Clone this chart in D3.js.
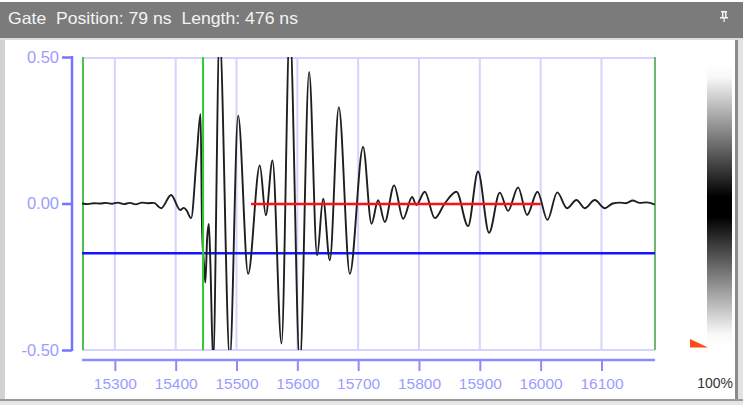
<!DOCTYPE html>
<html>
<head>
<meta charset="utf-8">
<script src="https://cdn.jsdelivr.net/npm/d3@7"></script>
<style>
  html, body { margin: 0; padding: 0; background: #ffffff; }
  svg { display: block; }
</style>
</head>
<body>
<svg id="chart" width="743" height="405"></svg>
<script>
// ---- data ----
const titleText = "Gate  Position: 79 ns  Length: 476 ns";
const xTicks = [15300, 15400, 15500, 15600, 15700, 15800, 15900, 16000, 16100];
const yTicks = [0.5, 0.0, -0.5];
const yTickLabels = ["0.50", "0.00", "-0.50"];
const xDomain = [15246, 16188];
const yDomain = [-0.5, 0.5];
const referenceTime = 15445;   // green gate reference line (ns)
const gatePosition = 79;       // ns after reference
const gateLength = 476;        // ns
const gateLevel = -0.002;      // red gate level
const thresholdLevel = -0.17;  // blue threshold line
const colorbarLabel = "100%";

const times = [
  15246, 15255.6, 15265.5, 15275.3, 15285.2, 15295.1, 15304.9, 15314.8, 15324.7, 15334.5, 15344.4, 15354.2, 15364.1,
  15376.1, 15392.5, 15407.3, 15413.4, 15417.5, 15425.4, 15434.3, 15440.9, 15443.5, 15446.3, 15448.8, 15451.7, 15454.5, 15457.0, 15461.6,
  15472.1, 15489.0, 15502.7, 15519.1, 15538.3, 15548.2, 15559.2, 15574.0, 15587.6, 15604.1,
  15619.4, 15632.5, 15642.4, 15653.4, 15668.2, 15686.3, 15708.1, 15721.9, 15732.8, 15743.8,
  15759.1, 15773.9, 15788.7, 15795.6, 15809.5, 15826.0, 15842.4, 15861.6, 15880.7, 15897.1,
  15915.2, 15932.8, 15946.5, 15962.9, 15977.7, 15994.8, 16011.2, 16027.3, 16043.4, 16058.9,
  16072.5, 16089.0, 16105.4, 16118.5, 16130.0, 16139.9, 16151.4, 16162.9, 16174.4, 16187.6
];
const amplitudes = [
  0, -0.002, 0.001, 0, 0.002, -0.001, 0.003, -0.002, 0.002, -0.003, 0.003, 0.001, 0.002,
  -0.016, 0.029, -0.022, -0.015, -0.022, -0.05, 0.153, 0.306, -0.10, -0.20, -0.27, -0.12, -0.07, -0.20, -0.54,
  0.58, -0.53, 0.30, -0.24, 0.13, -0.04, 0.147, -0.478, 0.6, -0.55,
  0.449, -0.177, 0.016, -0.194, 0.329, -0.24, 0.193, -0.069, 0.011, -0.063,
  0.062, -0.052, 0.022, -0.005, 0.040, -0.05, 0.0, 0.04, -0.077, 0.109,
  -0.10, 0.037, -0.025, 0.055, -0.039, 0.04, -0.056, 0.038, -0.016, 0.012,
  -0.016, 0.012, -0.016, 0.0, 0.003, 0.001, 0.01, 0.002, 0.004, -0.004
];

// ---- layout ----
const svg = d3.select("#chart");
const W = 743, H = 405;
const plot = { left: 82, right: 655, top: 57, bottom: 350 };

const x = d3.scaleLinear().domain(xDomain).range([plot.left, plot.right]);
const y = d3.scaleLinear().domain(yDomain).range([plot.bottom, plot.top]);

// window frame
svg.append("rect").attr("x", 0).attr("y", 0).attr("width", W).attr("height", H).attr("fill", "#ffffff");
svg.append("rect").attr("x", 0).attr("y", 38).attr("width", 5).attr("height", H - 38).attr("fill", "#d2d2d2");
svg.append("rect").attr("x", 735).attr("y", 38).attr("width", 3).attr("height", H - 38).attr("fill", "#8a8a8a");
svg.append("rect").attr("x", 738).attr("y", 38).attr("width", 5).attr("height", H - 38).attr("fill", "#e2e2e2");
svg.append("rect").attr("x", 0).attr("y", 399).attr("width", W).attr("height", 2).attr("fill", "#9a9a9a");
svg.append("rect").attr("x", 0).attr("y", 401).attr("width", W).attr("height", 4).attr("fill", "#e6e6e6");

// title bar
svg.append("rect").attr("x", 0).attr("y", 2).attr("width", W).attr("height", 36).attr("fill", "#7b7b7b");
svg.append("rect").attr("x", 0).attr("y", 38).attr("width", W).attr("height", 2).attr("fill", "#dcdcdc");
svg.append("text")
  .attr("x", 8).attr("y", 24)
  .attr("font-family", "'Liberation Sans Narrow', 'Liberation Sans', Arial, sans-serif")
  .attr("font-size", 16.5)
  .attr("fill", "#f4f4f4")
  .attr("textLength", 290)
  .attr("lengthAdjust", "spacingAndGlyphs")
  .style("white-space", "pre")
  .text(titleText);
// pin icon
const pin = svg.append("g").attr("fill", "#f4f4f4");
pin.append("rect").attr("x", 721).attr("y", 11).attr("width", 6).attr("height", 1.5);
pin.append("rect").attr("x", 722).attr("y", 11).attr("width", 1.5).attr("height", 7);
pin.append("rect").attr("x", 725).attr("y", 11).attr("width", 1.5).attr("height", 7);
pin.append("rect").attr("x", 720).attr("y", 17).attr("width", 8).attr("height", 1.5);
pin.append("rect").attr("x", 723.5).attr("y", 18).attr("width", 1.2).attr("height", 4);

// gridlines
const grid = svg.append("g");
grid.selectAll("line.v").data(xTicks).join("line")
  .attr("x1", d => x(d)).attr("x2", d => x(d))
  .attr("y1", plot.top).attr("y2", plot.bottom)
  .attr("stroke", "#d4d4ff").attr("stroke-width", 2);
grid.append("line").attr("x1", plot.left).attr("x2", plot.right)
  .attr("y1", plot.top + 1).attr("y2", plot.top + 1).attr("stroke", "#d4d4ff").attr("stroke-width", 2);
grid.append("line").attr("x1", plot.left).attr("x2", plot.right)
  .attr("y1", plot.bottom).attr("y2", plot.bottom).attr("stroke", "#d4d4ff").attr("stroke-width", 2);

// plot edge lines (green)
svg.append("line").attr("x1", x(xDomain[0]) + 1).attr("x2", x(xDomain[0]) + 1)
  .attr("y1", plot.top).attr("y2", plot.bottom).attr("stroke", "#4ec24e").attr("stroke-width", 2);
svg.append("line").attr("x1", x(xDomain[1])).attr("x2", x(xDomain[1]))
  .attr("y1", plot.top).attr("y2", plot.bottom).attr("stroke", "#6cb86c").attr("stroke-width", 2);

// blue threshold line
svg.append("line").attr("x1", plot.left).attr("x2", plot.right)
  .attr("y1", y(thresholdLevel)).attr("y2", y(thresholdLevel))
  .attr("stroke", "#1414ff").attr("stroke-width", 2.5);

// clip
svg.append("defs").append("clipPath").attr("id", "plotclip")
  .append("rect").attr("x", plot.left).attr("y", plot.top)
  .attr("width", plot.right - plot.left).attr("height", plot.bottom - plot.top);

// waveform
const pts = times.map((t, i) => [t, amplitudes[i]]);
const line = d3.line().x(d => x(d[0])).y(d => y(d[1])).curve(d3.curveMonotoneX);
svg.append("path").datum(pts)
  .attr("clip-path", "url(#plotclip)")
  .attr("d", line)
  .attr("fill", "none")
  .attr("stroke", "#1e1e1e")
  .attr("stroke-width", 1.9)
  .attr("stroke-linejoin", "round");

// gate reference green line
svg.append("line").attr("x1", x(referenceTime)).attr("x2", x(referenceTime))
  .attr("y1", plot.top).attr("y2", plot.bottom)
  .attr("stroke", "#2ecc2e").attr("stroke-width", 2);

// red gate
svg.append("line")
  .attr("x1", x(referenceTime + gatePosition)).attr("x2", x(referenceTime + gatePosition + gateLength))
  .attr("y1", y(gateLevel)).attr("y2", y(gateLevel))
  .attr("stroke", "#ff1010").attr("stroke-width", 2.5);

// x axis
const axisColor = "#7474ff";
const labelColor = "#9c9cff";
const xAxisY = 360;
svg.append("line").attr("x1", plot.left).attr("x2", plot.right)
  .attr("y1", xAxisY).attr("y2", xAxisY).attr("stroke", "#8c8cff").attr("stroke-width", 2.5);
const xAxis = d3.axisBottom(x).tickValues(xTicks).tickFormat(d3.format("d")).tickSize(11).tickPadding(7);
const gx = svg.append("g").attr("transform", `translate(0,${xAxisY})`).call(xAxis);
gx.select(".domain").remove();
gx.selectAll(".tick line").attr("stroke", "#8c8cff").attr("stroke-width", 2);
gx.selectAll(".tick text").attr("fill", labelColor)
  .attr("font-family", "'Liberation Sans', Arial, sans-serif").attr("font-size", 15.5);

// y axis
const yAxisX = 72;
svg.append("line").attr("x1", yAxisX).attr("x2", yAxisX)
  .attr("y1", plot.top - 1).attr("y2", plot.bottom + 1).attr("stroke", axisColor).attr("stroke-width", 2.5);
const yAxis = d3.axisLeft(y).tickValues(yTicks).tickFormat((d, i) => yTickLabels[i]).tickSize(10).tickPadding(3);
const gy = svg.append("g").attr("transform", `translate(${yAxisX},0)`).call(yAxis);
gy.select(".domain").remove();
gy.selectAll(".tick line").attr("stroke", axisColor).attr("stroke-width", 2.5);
gy.selectAll(".tick text").attr("fill", labelColor)
  .attr("font-family", "'Liberation Sans', Arial, sans-serif").attr("font-size", 16.5);

// colorbar
const grad = svg.select("defs").append("linearGradient").attr("id", "cbar")
  .attr("x1", 0).attr("y1", 0).attr("x2", 0).attr("y2", 1);
[[0, "#ffffff"], [0.05, "#f8f8f8"], [0.47, "#000000"], [0.54, "#000000"], [0.95, "#f8f8f8"], [1, "#ffffff"]]
  .forEach(([o, c]) => grad.append("stop").attr("offset", o).attr("stop-color", c));
svg.append("rect").attr("x", 707).attr("y", 63).attr("width", 25).attr("height", 285).attr("fill", "url(#cbar)");
svg.append("polygon").attr("points", "690,339 708,347.5 690,347.5").attr("fill", "#ff4a14");
svg.append("text").attr("x", 733).attr("y", 388).attr("text-anchor", "end")
  .attr("font-family", "'Liberation Sans', Arial, sans-serif").attr("font-size", 14)
  .attr("fill", "#333333").text(colorbarLabel);
</script>
</body>
</html>
